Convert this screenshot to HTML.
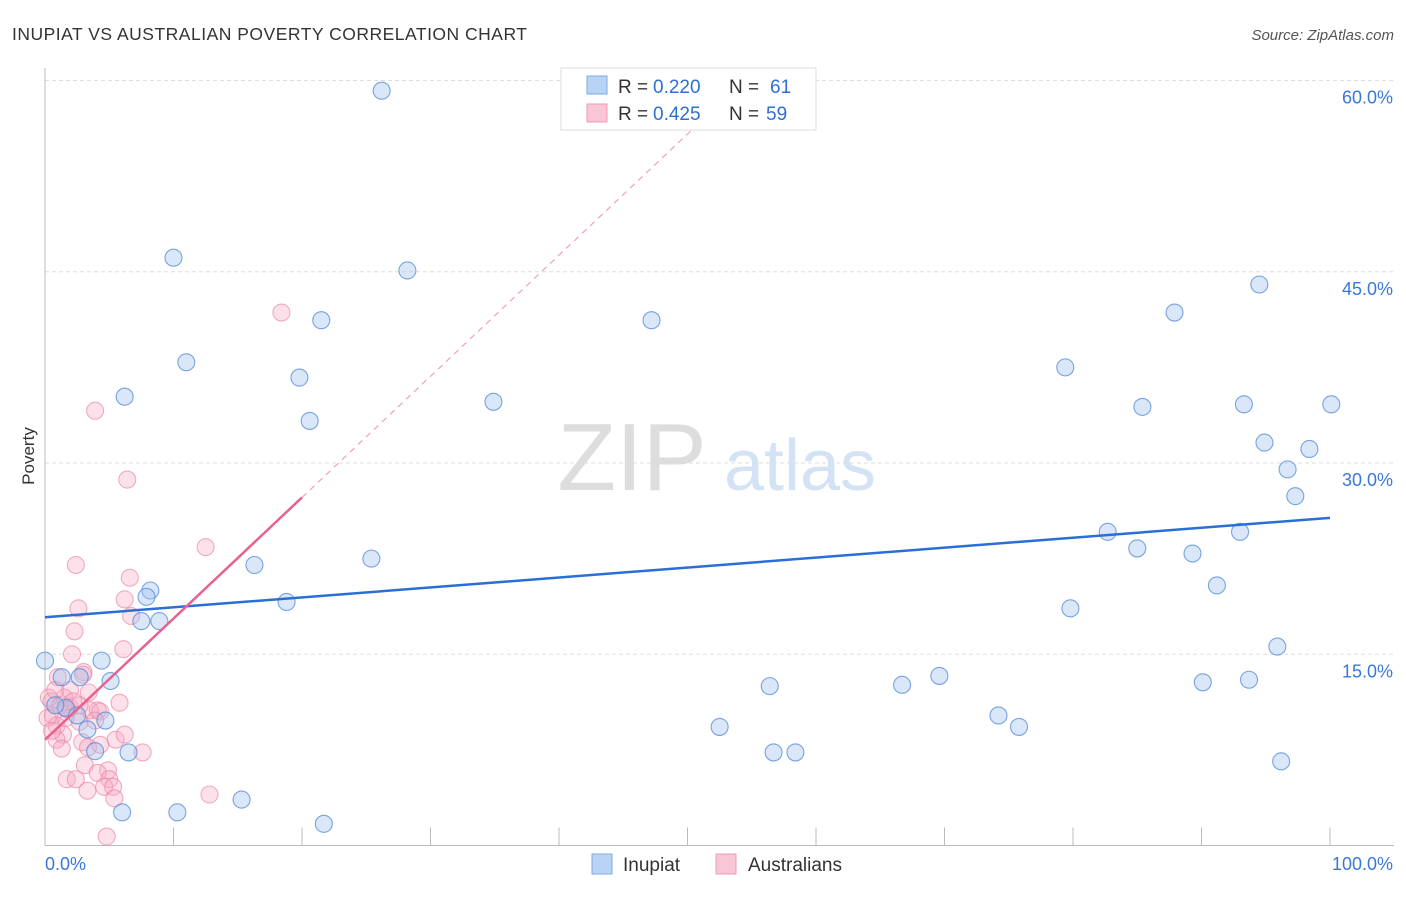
<!DOCTYPE html>
<html><head><meta charset="utf-8"><style>
body{margin:0;background:#fff;font-family:"Liberation Sans",sans-serif}
svg text{font-family:"Liberation Sans",sans-serif}
</style></head><body>
<svg id="chart" width="1406" height="892">
<text x="12" y="40" font-size="17.5" fill="#333" textLength="515">INUPIAT VS AUSTRALIAN POVERTY CORRELATION CHART</text>
<text x="1394" y="40" font-size="15" fill="#555" font-style="italic" text-anchor="end">Source: ZipAtlas.com</text>
<g><text x="632" y="490" font-size="96" fill="#ddd" font-family="Liberation Serif,serif" text-anchor="middle">ZIP</text><text x="800" y="490" font-size="72" fill="#d4e2f5" text-anchor="middle">atlas</text></g>
<text transform="translate(34,456) rotate(-90)" font-size="17" fill="#333" text-anchor="middle">Poverty</text>
<g id="grid"></g><g id="axes"></g><g id="pts"></g><g id="lines"></g>
<g>
<rect x="561" y="68" width="255" height="62" fill="#fff" stroke="#ddd"/>
<rect x="587" y="76" width="20" height="18" fill="#b9d3f5" stroke="#7fa9e4"/>
<rect x="587" y="104" width="20" height="18" fill="#f9c6d5" stroke="#ee9bb5"/>
<text x="618" y="93" font-size="19" fill="#333">R =</text><text x="653" y="93" font-size="19" fill="#2f6fd0">0.220</text>
<text x="729" y="93" font-size="19" fill="#333">N =</text><text x="770" y="93" font-size="19" fill="#2f6fd0">61</text>
<text x="618" y="120" font-size="19" fill="#333">R =</text><text x="653" y="120" font-size="19" fill="#2f6fd0">0.425</text>
<text x="729" y="120" font-size="19" fill="#333">N =</text><text x="766" y="120" font-size="19" fill="#2f6fd0">59</text>
</g>
<g>
<rect x="592" y="854" width="20" height="20" fill="#b9d3f5" stroke="#7fa9e4"/>
<text x="623" y="871" font-size="19" fill="#333">Inupiat</text>
<rect x="716" y="854" width="20" height="20" fill="#f9c6d5" stroke="#ee9bb5"/>
<text x="748" y="871" font-size="19" fill="#333">Australians</text>
</g>
</svg>
<script>
const yTicks=[15,30,45,60];
const yTickLabels=["15.0%","30.0%","45.0%","60.0%"];
const xTickVals=[0,10,20,30,40,50,60,70,80,90,100];
const blueX=[26.2,10.0,28.2,21.5,47.2,11.0,6.2,19.8,20.6,34.9,94.5,87.9,79.4,85.4,93.3,100.1,94.9,98.4,96.7,97.3,82.7,85.0,93.0,89.3,91.2,79.8,95.9,69.6,66.7,90.1,93.7,74.2,75.8,52.5,56.7,58.4,96.2,56.4,16.3,25.4,18.8,8.2,7.9,7.5,8.9,0.0,4.4,1.3,2.7,5.1,4.7,3.3,3.9,6.5,6.0,10.3,15.3,21.7,1.6,2.5,0.8];
const blueY=[59.2,46.1,45.1,41.2,41.2,37.9,35.2,36.7,33.3,34.8,44.0,41.8,37.5,34.4,34.6,34.6,31.6,31.1,29.5,27.4,24.6,23.3,24.6,22.9,20.4,18.6,15.6,13.3,12.6,12.8,13.0,10.2,9.3,9.3,7.3,7.3,6.6,12.5,22.0,22.5,19.1,20.0,19.5,17.6,17.6,14.5,14.5,13.2,13.2,12.9,9.8,9.1,7.4,7.3,2.6,2.6,3.6,1.7,10.8,10.2,11.0];
const pinkX=[18.4,3.9,6.4,12.5,2.4,6.6,2.6,6.2,6.7,2.3,6.1,2.1,3.0,1.0,2.95,3.4,1.5,0.5,5.8,0.6,1.95,3.5,4.1,4.3,0.9,2.7,1.4,0.9,2.9,3.35,5.5,7.6,1.3,3.1,4.9,4.1,1.7,2.4,5.0,4.6,5.3,3.3,12.8,5.4,4.8,0.3,0.8,1.95,1.2,2.7,0.2,1.6,0.55,3.9,6.2,4.3,2.2,1.7];
const pinkY=[41.8,34.1,28.7,23.4,22.0,21.0,18.6,19.3,18.0,16.8,15.4,15.0,13.6,13.2,13.4,12.0,11.6,11.3,11.2,10.2,10.8,10.6,10.6,10.5,9.4,9.7,8.7,8.3,8.1,7.7,8.3,7.3,7.6,6.3,5.9,5.7,5.2,5.2,5.2,4.6,4.6,4.3,4.0,3.7,0.7,11.6,12.2,12.2,11.0,11.0,10.0,10.0,9.0,9.8,8.7,7.9,11.3,10.7];
const blueTrend=[17.9,25.7];
const pinkTrend=[8.3,27.3];
const NS="http://www.w3.org/2000/svg";
const X=v=>45+v*12.85, Y=v=>845.5-v*12.75;
function mk(t,a,p){const e=document.createElementNS(NS,t);for(const k in a)e.setAttribute(k,a[k]);document.getElementById(p).appendChild(e);return e;}
yTicks.forEach((t,i)=>{
 const g=mk('line',{x1:45,x2:1394,y1:Y(t),y2:Y(t),stroke:'#ddd','stroke-dasharray':'4,3'},'grid');
 
 
 const l=mk('text',{x:1393,y:Y(t)+23,'font-size':18,fill:'#3a78d8','text-anchor':'end'},'grid');l.textContent=yTickLabels[i];
 
 
});
mk('line',{x1:45,x2:1394,y1:Y(0),y2:Y(0),stroke:'#bbb'},'axes');
mk('line',{x1:45,x2:45,y1:68,y2:Y(0),stroke:'#bbb'},'axes');
xTickVals.forEach(t=>{const e=mk('line',{x1:X(t),x2:X(t),y1:Y(0)-18,y2:Y(0),stroke:'#bbb'},'axes');
 
 });
let a=mk('text',{x:45,y:870,'font-size':18,fill:'#3a78d8'},'axes');a.textContent='0.0%';


a=mk('text',{x:1393,y:870,'font-size':18,fill:'#3a78d8','text-anchor':'end'},'axes');a.textContent='100.0%';


pinkX.forEach((v,i)=>{const c=mk('circle',{cx:X(v),cy:Y(pinkY[i]),r:8.5,fill:'rgba(246,170,195,0.35)',stroke:'rgba(235,130,165,0.65)','stroke-width':1.1},'pts');
 
 });
blueX.forEach((v,i)=>{const c=mk('circle',{cx:X(v),cy:Y(blueY[i]),r:8.5,fill:'rgba(160,195,240,0.4)',stroke:'rgba(80,135,215,0.75)','stroke-width':1.1},'pts');
 
 });
let ln=mk('line',{x1:X(0),y1:Y(blueTrend[0]),x2:X(100),y2:Y(blueTrend[1]),stroke:'#2a6fd6','stroke-width':2.5},'lines');


const ps=(pinkTrend[1]-pinkTrend[0])/20;
ln=mk('line',{x1:X(20),y1:Y(pinkTrend[1]),x2:X(54),y2:Y(pinkTrend[0]+ps*54),stroke:'#f0a0bb','stroke-width':1.2,'stroke-dasharray':'6,5'},'lines');


ln=mk('line',{x1:X(0),y1:Y(pinkTrend[0]),x2:X(20),y2:Y(pinkTrend[1]),stroke:'#e8628f','stroke-width':2.5},'lines');


</script>
</body></html>
